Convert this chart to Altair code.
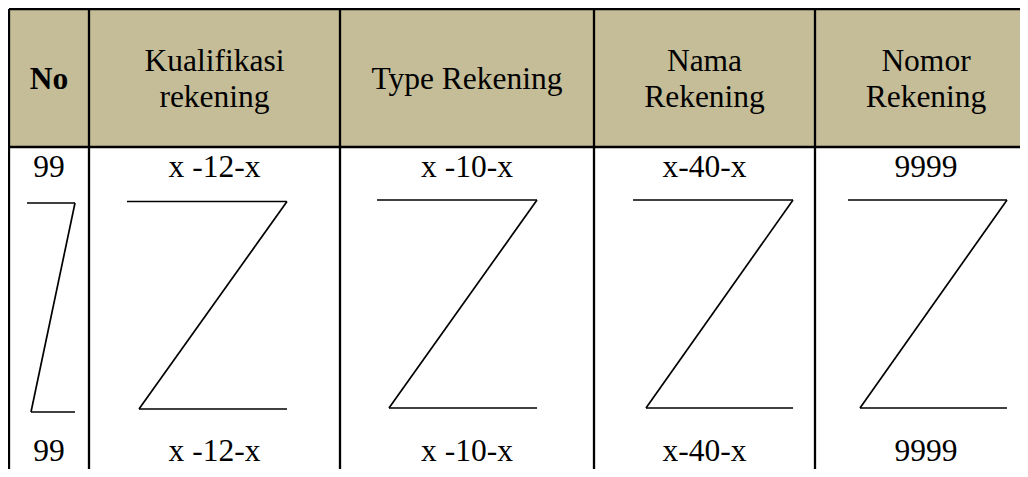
import altair as alt
import pandas as pd

# ---- table content ----
header_lines = [["No"], ["Kualifikasi", "rekening"], ["Type Rekening"], ["Nama", "Rekening"], ["Nomor", "Rekening"]]
first_row = ["99", "x -12-x", "x -10-x", "x-40-x", "9999"]
last_row = ["99", "x -12-x", "x -10-x", "x-40-x", "9999"]

# ---- table geometry (pixel units of the picture) ----
col_edges = [9, 89, 340, 594, 815, 1037]
table_top = 9
header_bottom = 147
table_bottom = 500
single_baseline = 89
double_baselines = [71, 107]
first_row_baseline = 177
last_row_baseline = 461

# Z placeholder strokes in each column
z_top_left = [27, 127, 377, 633, 848]
z_top_right = [75, 287, 537, 793, 1007]
z_bot_left = [31, 139, 389, 646, 860]
z_bot_right = [75, 287, 537, 793, 1007]
z_top_y = [203, 201.5, 200, 200, 200]
z_bot_y = [412, 409, 408, 408, 408]

HEADER_FILL = "#C4BD97"
FONT = "Liberation Serif"
FS = 31.5

xs = alt.Scale(domain=[8, 1020], nice=False, zero=False)
ys = alt.Scale(domain=[8, 469], nice=False, zero=False, reverse=True)

def X(f):
    return alt.X(f, type="quantitative", scale=xs, axis=None)

def Y(f):
    return alt.Y(f, type="quantitative", scale=ys, axis=None)

# header background
hdr = pd.DataFrame({"x": [col_edges[0]], "x2": [col_edges[-1]], "y": [table_top], "y2": [header_bottom]})
header_rect = alt.Chart(hdr).mark_rect(fill=HEADER_FILL).encode(
    x=X("x"), x2="x2", y=Y("y"), y2="y2"
)

# grid lines
segs = []
for e in col_edges:
    segs.append({"x": e, "x2": e, "y": table_top, "y2": table_bottom})
for hy in [table_top, header_bottom]:
    segs.append({"x": col_edges[0], "x2": col_edges[-1], "y": hy, "y2": hy})
grid = alt.Chart(pd.DataFrame(segs)).mark_rule(color="black", strokeWidth=2.3).encode(
    x=X("x"), x2="x2", y=Y("y"), y2="y2"
)

# Z strokes
zs = []
for i in range(len(z_top_left)):
    zs.append({"x": z_top_left[i], "x2": z_top_right[i], "y": z_top_y[i], "y2": z_top_y[i]})
    zs.append({"x": z_top_right[i], "x2": z_bot_left[i], "y": z_top_y[i], "y2": z_bot_y[i]})
    zs.append({"x": z_bot_left[i], "x2": z_bot_right[i], "y": z_bot_y[i], "y2": z_bot_y[i]})
zmarks = alt.Chart(pd.DataFrame(zs)).mark_rule(color="black", strokeWidth=1.7).encode(
    x=X("x"), x2="x2", y=Y("y"), y2="y2"
)

# texts
centers = [(col_edges[i] + col_edges[i + 1]) / 2 for i in range(len(col_edges) - 1)]
bold_rows, plain_rows = [], []
for i, lines in enumerate(header_lines):
    bl = [single_baseline] if len(lines) == 1 else double_baselines
    for t, b in zip(lines, bl):
        (bold_rows if i == 0 else plain_rows).append({"x": centers[i], "y": b, "t": t})
for i in range(len(first_row)):
    plain_rows.append({"x": centers[i], "y": first_row_baseline, "t": first_row[i]})
    plain_rows.append({"x": centers[i], "y": last_row_baseline, "t": last_row[i]})

text_plain = alt.Chart(pd.DataFrame(plain_rows)).mark_text(
    font=FONT, fontSize=FS, color="black", align="center", baseline="alphabetic"
).encode(x=X("x"), y=Y("y"), text="t:N")
text_bold = alt.Chart(pd.DataFrame(bold_rows)).mark_text(
    font=FONT, fontSize=FS, fontWeight="bold", color="black", align="center", baseline="alphabetic"
).encode(x=X("x"), y=Y("y"), text="t:N")

chart = alt.layer(header_rect, grid, zmarks, text_plain, text_bold).properties(
    width=1012, height=461, padding=0, autosize=alt.AutoSizeParams(type="none"),
    background="white"
).configure_view(stroke=None)

chart.save("out.html", embed_options={"renderer": "svg", "actions": False})
